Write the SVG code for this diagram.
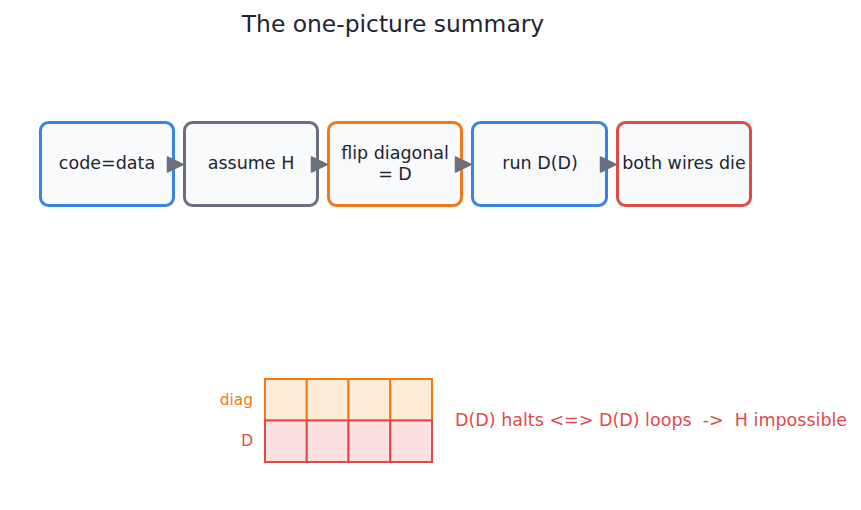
<svg xmlns="http://www.w3.org/2000/svg" width="861" height="510" viewBox="0 0 861 510">
<style>
text{font-family:"DejaVu Sans",sans-serif;}
.node rect{fill:#f8fafc;stroke-width:3;}
.lbl{font-size:17.5px;fill:#1f2430;text-anchor:middle;dominant-baseline:central;}
.conn path{fill:#6b7080;stroke:#6b7080;stroke-width:1.5;stroke-linejoin:round;}
.cell-o{fill:#feebd6;stroke:#f07a1a;stroke-width:2;}
.cell-r{fill:#fde1e2;stroke:#e24a4a;stroke-width:2;}
</style>
<rect width="861" height="510" fill="#ffffff"/>
<text x="393" y="24" font-size="23.4" fill="#1f2430" text-anchor="middle" dominant-baseline="central">The one-picture summary</text>
<g id="n1" class="node"><rect x="40.5" y="122.5" width="133" height="83" rx="8" stroke="#3b82e6"/><text class="lbl" x="107" y="163">code=data</text></g>
<g id="n2" class="node"><rect x="184.5" y="122.5" width="133" height="83" rx="8" stroke="#6b7080"/><text class="lbl" x="251" y="163">assume H</text></g>
<g id="n3" class="node"><rect x="328.5" y="122.5" width="133" height="83" rx="8" stroke="#f07a1a"/><text class="lbl" x="395" y="153">flip diagonal</text><text class="lbl" x="395" y="174">= D</text></g>
<g id="n4" class="node"><rect x="472.5" y="122.5" width="134" height="83" rx="8" stroke="#3b82e6"/><text class="lbl" x="540" y="163">run D(D)</text></g>
<g id="n5" class="node"><rect x="617.5" y="122.5" width="133" height="83" rx="8" stroke="#e24a4a"/><text class="lbl" x="684" y="163">both wires die</text></g>
<g id="connectors" class="conn">
<path d="M167.5,157 L183,164.5 L167.5,172 Z"/>
<path d="M311.5,157 L327,164.5 L311.5,172 Z"/>
<path d="M455.5,157 L471,164.5 L455.5,172 Z"/>
<path d="M600.5,157 L616,164.5 L600.5,172 Z"/>
</g>
<g id="grid">
<rect class="cell-o" x="265" y="379" width="41.75" height="41.5"/>
<rect class="cell-o" x="306.75" y="379" width="41.75" height="41.5"/>
<rect class="cell-o" x="348.5" y="379" width="41.75" height="41.5"/>
<rect class="cell-o" x="390.25" y="379" width="41.75" height="41.5"/>
<rect class="cell-r" x="265" y="420.5" width="41.75" height="41.5"/>
<rect class="cell-r" x="306.75" y="420.5" width="41.75" height="41.5"/>
<rect class="cell-r" x="348.5" y="420.5" width="41.75" height="41.5"/>
<rect class="cell-r" x="390.25" y="420.5" width="41.75" height="41.5"/>
<text x="253" y="400" font-size="15.4" fill="#f07a1a" text-anchor="end" dominant-baseline="central">diag</text>
<text x="253" y="441" font-size="15.4" fill="#e24a4a" text-anchor="end" dominant-baseline="central">D</text>
</g>
<text x="455" y="420" font-size="17.5" fill="#e24a4a" dominant-baseline="central" xml:space="preserve">D(D) halts &lt;=&gt; D(D) loops  -&gt;  H impossible</text>
</svg>
